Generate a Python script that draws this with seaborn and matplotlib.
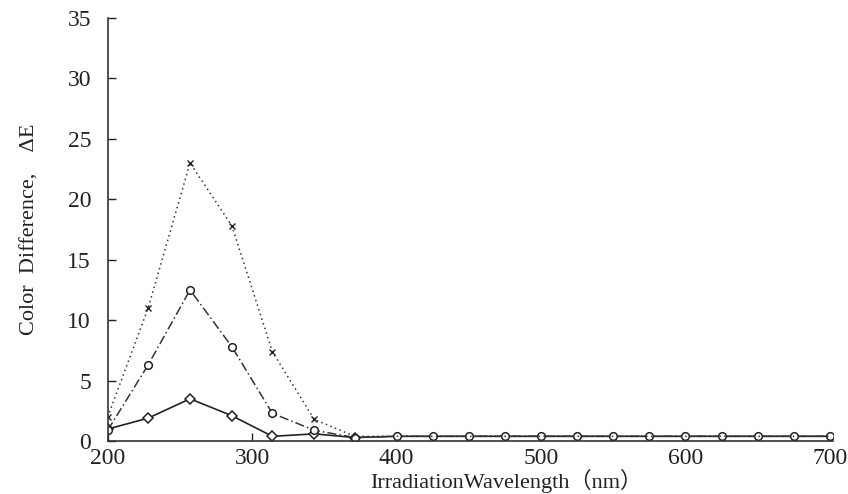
import numpy as np
import pandas as pd
import seaborn as sns
import matplotlib.pyplot as plt

# wavelengths (nm)
wavelength = [200, 228, 257, 286, 314, 343, 371, 400, 425, 450, 475, 500,
              525, 550, 575, 600, 625, 650, 675, 700]

# three series of colour difference, dE
cross_vals = [2.0, 11.0, 23.0, 17.8, 7.4, 1.8, 0.4, 0.4, 0.4, 0.4, 0.4, 0.4,
              0.4, 0.4, 0.4, 0.4, 0.4, 0.4, 0.4, 0.4]
circle_vals = [0.9, 6.3, 12.5, 7.8, 2.3, 0.9, 0.3, 0.4, 0.4, 0.4, 0.4, 0.4,
               0.4, 0.4, 0.4, 0.4, 0.4, 0.4, 0.4, 0.4]
diamond_vals = [1.0, 1.9, 3.5, 2.1, 0.4, 0.6, 0.3, 0.4, 0.4, 0.4, 0.4, 0.4,
                0.4, 0.4, 0.4, 0.4, 0.4, 0.4, 0.4, 0.4]

df = pd.DataFrame({
    "wl": wavelength,
    "cross": cross_vals,
    "circle": circle_vals,
    "diamond": diamond_vals,
})

sns.set_theme(style="ticks")
plt.rcParams['font.family'] = ['Liberation Serif', 'Noto Sans CJK JP']

fig = plt.figure(figsize=(8.48, 4.94), dpi=100)
ax = fig.add_axes([0.127, 0.107, 0.855, 0.857])

# solid line with diamonds (only visible on the peak part)
sns.lineplot(data=df, x="wl", y="diamond", ax=ax, color="#222222", lw=1.2,
             linestyle="-", marker="D", markersize=5.5, markevery=slice(0, 7),
             markerfacecolor="white", markeredgecolor="#222222",
             markeredgewidth=1.1)
# dash-dot line with circles
sns.lineplot(data=df, x="wl", y="circle", ax=ax, color="#333333", lw=1.1,
             linestyle=(0, (6, 2, 1, 2)), marker="o", markersize=5.5,
             markerfacecolor="white", markeredgecolor="#222222",
             markeredgewidth=1.1)
# dotted line with crosses
sns.lineplot(data=df, x="wl", y="cross", ax=ax, color="#333333", lw=1.1,
             linestyle=(0, (1, 2.2)), marker="x", markersize=4.5,
             markevery=slice(0, 6), markeredgewidth=1.0,
             markeredgecolor="#222222")

ax.set_xlim(200, 702)
ax.set_ylim(0, 35)
ax.set_xticks([200, 300, 400, 500, 600, 700])
ax.set_yticks([0, 5, 10, 15, 20, 25, 30, 35])
ax.tick_params(direction="in", length=6, width=1, colors="#222222",
               labelsize=17, pad=5)
ax.tick_params(axis="y", pad=12)
sns.despine(ax=ax)
for s in ["left", "bottom"]:
    ax.spines[s].set_color("#333333")
    ax.spines[s].set_linewidth(1.2)

ax.set_xlabel("IrradiationWavelength（nm）", fontsize=16, color="#222222",
              labelpad=2)
ax.xaxis.set_label_coords(0.55, -0.065)
ax.set_ylabel("Color  Difference,    ΔE", fontsize=16, color="#222222",
              labelpad=20)

fig.savefig("out.png", dpi=100)
